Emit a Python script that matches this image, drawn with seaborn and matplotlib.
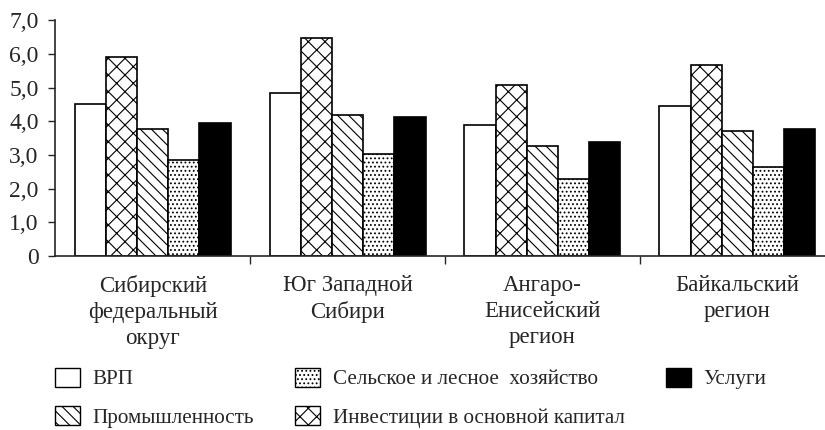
import numpy as np
import pandas as pd
import seaborn as sns
import matplotlib.pyplot as plt
from matplotlib.patches import Patch

regions = ["Сибирский\nфедеральный\nокруг", "Юг Западной\nСибири",
           "Ангаро-\nЕнисейский\nрегион", "Байкальский\nрегион"]
series = ["ВРП", "Инвестиции в основной капитал", "Промышленность",
          "Сельское и лесное  хозяйство", "Услуги"]
vrp = [4.5, 4.85, 3.9, 4.45]
invest = [5.9, 6.47, 5.08, 5.67]
industry = [3.78, 4.17, 3.25, 3.72]
agro = [2.85, 3.02, 2.28, 2.63]
services = [3.95, 4.12, 3.38, 3.78]

df = pd.DataFrame({"region": regions * 5,
                   "series": np.repeat(series, 4),
                   "value": vrp + invest + industry + agro + services})

sns.set_style("ticks")
plt.rcParams['font.family'] = ['Liberation Serif', 'DejaVu Serif']
plt.rcParams['hatch.linewidth'] = 0.8

fills = ["white", "white", "white", "white", "black"]
hatches = ["", "xx", "\\\\\\", "....", ""]

fig = plt.figure(figsize=(8.25, 4.3), dpi=100)
ax = fig.add_axes([0.067, 0.405, 0.933, 0.548])
sns.barplot(data=df, x="region", y="value", hue="series", hue_order=series,
            palette=fills, edgecolor="black", linewidth=1.2, ax=ax,
            legend=False, errorbar=None)

for i, cont in enumerate(ax.containers):
    for bar in cont:
        bar.set_hatch(hatches[i])
        bar.set_facecolor(fills[i])
        bar.set_edgecolor("black")

ax.set_xlim(-0.5, 3.45)
ax.set_ylim(0, 7)
ax.set_yticks(np.arange(0, 8, 1))
ax.set_yticklabels(["0"] + [f"{v},0" for v in range(1, 8)], fontsize=17)
ax.set_xticks(range(4))
ax.set_xticklabels(regions, fontsize=16.5, linespacing=1.3)
ax.tick_params(axis="x", length=0, pad=14)
ax.tick_params(axis="y", length=5, width=1, pad=7)
ax.set_xticks([0.5, 1.5, 2.5], minor=True)
ax.tick_params(axis="x", which="minor", length=6, width=1)
ax.set_xlabel("")
ax.set_ylabel("")
sns.despine(ax=ax)
for s in ["left", "bottom"]:
    ax.spines[s].set_linewidth(1.2)

order = [0, 2, 3, 1, 4]
handles = [Patch(facecolor=fills[i], edgecolor="black", hatch=hatches[i],
                 linewidth=1.0) for i in order]
labels = [series[i] for i in order]
fig.legend(handles, labels, loc="lower left", bbox_to_anchor=(53 / 825, 0.0),
           ncol=3, frameon=False, fontsize=15.2, handlelength=1.2,
           handleheight=1.0, handletextpad=0.57, columnspacing=1.95,
           labelspacing=0.8, borderpad=0.1, borderaxespad=0)

fig.savefig("out.png", dpi=100)
